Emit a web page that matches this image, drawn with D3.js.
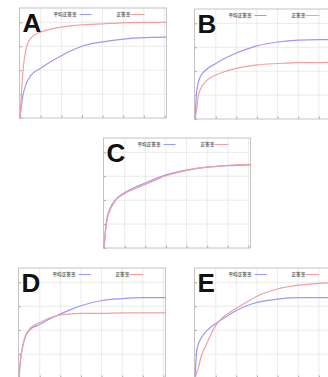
<!DOCTYPE html>
<html>
<head>
<meta charset="utf-8">
<script src="https://cdn.jsdelivr.net/npm/d3@7"></script>
<style>
  body { margin: 0; background: #fff; }
  svg { display: block; }
</style>
</head>
<body>
<div id="chart"></div>
<script>
// shared x sample points (arbitrary time units, grid every 1)
const xPoints = [0, 0.07, 0.15, 0.3, 0.5, 1, 1.5, 2, 2.5, 3, 4, 5, 6, 7.1]
const yTicks = [0, 25, 50, 75, 100]
const xTicks = [0, 1, 2, 3, 4, 5, 6, 7]
const legendLabels = ["平均正答率", "正答率"]
const panelNames = ["A", "B", "C", "D", "E"]

// 平均正答率 (blue) / 正答率 (red) per panel
const avgA  = [0, 14, 25, 36, 44, 52, 59, 65, 70.5, 75, 79.5, 82.5, 84, 84.5]
const rateA = [0, 28, 52, 73, 83, 90, 93, 95, 96.5, 97.5, 98.5, 99.5, 100, 100]
const avgB  = [0, 28, 38, 46, 51, 58, 64, 69, 73, 76.5, 80.5, 82.5, 83, 83]
const rateB = [0, 10, 24, 33, 39, 46, 50, 53, 55, 56.5, 58, 59, 59, 59.5]
const avgC  = [0, 20, 32, 42, 49, 58, 63.5, 68, 72.5, 76.5, 81.5, 84.5, 86, 87]
const rateC = [0, 18, 30, 40, 48, 57, 62, 66.5, 71, 75.5, 81, 84.5, 86.5, 87.5]
const avgD  = [0, 20, 30, 43, 50, 56, 62, 67, 71.5, 75.5, 81, 83, 84, 84]
const rateD = [0, 20, 31, 44, 51, 58, 63, 66, 67, 67.5, 67.5, 68, 68, 68]
const avgE  = [0, 27, 35, 42, 48, 57, 64, 70.5, 75.5, 79, 82.5, 84, 84, 84]
const rateE = [0, 5, 10, 23, 33, 55, 66, 73, 79.5, 85.5, 93, 97, 99, 100]

const avgSeries = [avgA, avgB, avgC, avgD, avgE]
const rateSeries = [rateA, rateB, rateC, rateD, rateE]

const blue = "#9a9af2"
const red = "#f2a0a0"
const pw = 147, ph = 110
const spots = [[19.5, 8], [194.5, 9], [103.5, 138], [18.5, 268], [194.5, 268]]

const svg = d3.select("#chart")
  .append("svg")
    .attr("width", 328)
    .attr("height", 377)

const x = d3.scaleLinear().domain([-0.03, 7.1]).range([0, pw])
const y = d3.scaleLinear().domain([0, 115]).range([ph, 0])

const line = d3.line()
  .x(d => x(d[0]))
  .y(d => y(d[1]))
  .curve(d3.curveMonotoneX)

panelNames.forEach(function(name, i) {
  const g = svg.append("g")
    .attr("transform", "translate(" + spots[i][0] + "," + spots[i][1] + ")")

  // grid
  g.append("g")
    .selectAll("line.v")
    .data(xTicks.slice(1))
    .join("line")
      .attr("x1", d => x(d)).attr("x2", d => x(d))
      .attr("y1", 0).attr("y2", ph)
      .attr("stroke", "#e6e6e6").attr("stroke-width", 0.8)
  g.append("g")
    .selectAll("line.h")
    .data(yTicks.slice(1))
    .join("line")
      .attr("x1", 0).attr("x2", pw)
      .attr("y1", d => y(d)).attr("y2", d => y(d))
      .attr("stroke", "#e6e6e6").attr("stroke-width", 0.8)

  // inward ticks, no labels
  g.append("g")
    .attr("transform", "translate(0," + ph + ")")
    .call(d3.axisBottom(x).tickValues(xTicks).tickSize(-2.5).tickFormat(""))
    .call(a => a.select(".domain").remove())
    .call(a => a.selectAll("line").attr("stroke", "#aaa"))
  g.append("g")
    .call(d3.axisLeft(y).tickValues(yTicks).tickSize(-2.5).tickFormat(""))
    .call(a => a.select(".domain").remove())
    .call(a => a.selectAll("line").attr("stroke", "#aaa"))

  g.append("rect")
    .attr("width", pw).attr("height", ph)
    .attr("fill", "none").attr("stroke", "#c4c4c4").attr("stroke-width", 1)

  g.append("path")
    .datum(xPoints.map((d, j) => [d, avgSeries[i][j]]))
    .attr("fill", "none").attr("stroke", blue).attr("stroke-width", 1.2)
    .attr("d", line)
  g.append("path")
    .datum(xPoints.map((d, j) => [d, rateSeries[i][j]]))
    .attr("fill", "none").attr("stroke", red).attr("stroke-width", 1.2)
    .attr("d", line)

  g.append("text")
    .attr("x", 3).attr("y", 24)
    .attr("font-family", "Liberation Sans, Arial, sans-serif")
    .attr("font-weight", "bold")
    .attr("font-size", 26)
    .attr("fill", "#111")
    .text(name)

  // legend
  const lg = g.append("g")
    .attr("font-family", "Noto Sans CJK JP, sans-serif")
    .attr("font-size", 4.6)
    .attr("font-weight", "bold")
    .attr("fill", "#666")
  lg.append("text").attr("x", 34).attr("y", 8).text(legendLabels[0])
  lg.append("line").attr("x1", 60).attr("x2", 72).attr("y1", 6.5).attr("y2", 6.5)
    .attr("stroke", blue).attr("stroke-width", 1)
  lg.append("text").attr("x", 97).attr("y", 8).text(legendLabels[1])
  lg.append("line").attr("x1", 111).attr("x2", 125).attr("y1", 6.5).attr("y2", 6.5)
    .attr("stroke", red).attr("stroke-width", 1)
})
</script>
</body>
</html>
